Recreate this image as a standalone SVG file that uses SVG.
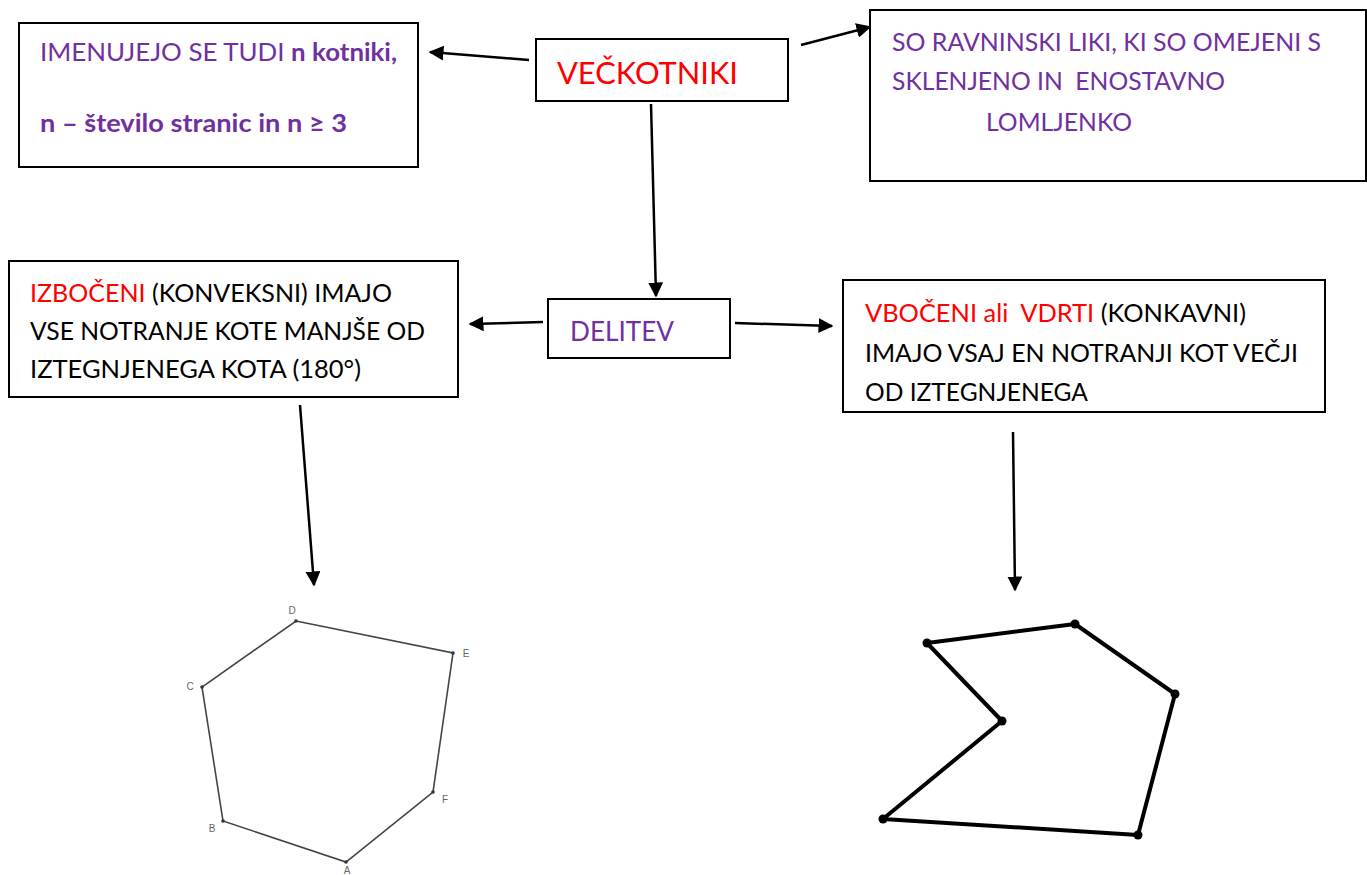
<svg xmlns="http://www.w3.org/2000/svg" width="1367" height="875" viewBox="0 0 1367 875">
<defs>
<style>
.box{fill:#fff;stroke:#000;stroke-width:2}
.t{font-family:Lato,"Open Sans",sans-serif}
.p{fill:#7030a0}
.r{fill:#ff0000}
.k{fill:#000}
.b{font-weight:bold}
.con{stroke:#000;stroke-width:2.5;fill:none}
.lbl{font-family:"Liberation Sans",Arial,sans-serif;font-size:10px;fill:#666}
</style>
<marker id="ah" viewBox="0 0 10 10" refX="9" refY="5" markerWidth="6" markerHeight="6" orient="auto" markerUnits="strokeWidth">
<path d="M0,0 L10,5 L0,10 z" fill="#000"/>
</marker>
</defs>
<rect width="1367" height="875" fill="#fff"/>

<g id="node-imenujejo">
<rect class="box" x="19" y="23" width="399" height="144"/>
<text class="t p" x="40" y="61" font-size="25.5" textLength="357" lengthAdjust="spacingAndGlyphs">IMENUJEJO SE TUDI <tspan class="b">n kotniki,</tspan></text>
<text class="t p b" x="40" y="132" font-size="25.5" textLength="307" lengthAdjust="spacingAndGlyphs">n – število stranic in n ≥ 3</text>
</g>

<g id="node-veckotniki">
<rect class="box" x="536" y="39" width="252" height="62"/>
<text class="t r" x="557" y="84" font-size="31" textLength="181" lengthAdjust="spacingAndGlyphs">VEČKOTNIKI</text>
</g>

<g id="node-so">
<rect class="box" x="870" y="10" width="496" height="171"/>
<text class="t p" x="892" y="51" font-size="24.5" textLength="429" lengthAdjust="spacingAndGlyphs">SO RAVNINSKI LIKI, KI SO OMEJENI S</text>
<text class="t p" x="892" y="90" font-size="24.5" xml:space="preserve" textLength="333" lengthAdjust="spacingAndGlyphs">SKLENJENO IN  ENOSTAVNO</text>
<text class="t p" x="986" y="131" font-size="24.5" textLength="146" lengthAdjust="spacingAndGlyphs">LOMLJENKO</text>
</g>

<g id="node-izboceni">
<rect class="box" x="9" y="261" width="449" height="136"/>
<text class="t k" x="30" y="302" font-size="24.5" textLength="362" lengthAdjust="spacingAndGlyphs"><tspan class="r">IZBOČENI</tspan> (KONVEKSNI) IMAJO</text>
<text class="t k" x="30" y="340" font-size="24.5" textLength="395" lengthAdjust="spacingAndGlyphs">VSE NOTRANJE KOTE MANJŠE OD</text>
<text class="t k" x="30" y="378" font-size="24.5" textLength="331" lengthAdjust="spacingAndGlyphs">IZTEGNJENEGA KOTA (180°)</text>
</g>

<g id="node-delitev">
<rect class="box" x="548" y="299" width="182" height="59"/>
<text class="t p" x="570" y="341" font-size="26" textLength="104" lengthAdjust="spacingAndGlyphs">DELITEV</text>
</g>

<g id="node-vboceni">
<rect class="box" x="843" y="280" width="482" height="132"/>
<text class="t k" x="865" y="322" font-size="24.5" xml:space="preserve" textLength="381" lengthAdjust="spacingAndGlyphs"><tspan class="r">VBOČENI ali  VDRTI</tspan> (KONKAVNI)</text>
<text class="t k" x="865" y="362" font-size="24.5" textLength="433" lengthAdjust="spacingAndGlyphs">IMAJO VSAJ EN NOTRANJI KOT VEČJI</text>
<text class="t k" x="865" y="401" font-size="24.5" textLength="223" lengthAdjust="spacingAndGlyphs">OD IZTEGNJENEGA</text>
</g>

<g id="connectors">
<line class="con" x1="529" y1="60" x2="430" y2="52" marker-end="url(#ah)"/>
<line class="con" x1="801" y1="45" x2="870" y2="27" marker-end="url(#ah)"/>
<line class="con" x1="651" y1="104" x2="656" y2="296" marker-end="url(#ah)"/>
<line class="con" x1="543" y1="322" x2="470" y2="324" marker-end="url(#ah)"/>
<line class="con" x1="735" y1="323" x2="832" y2="326" marker-end="url(#ah)"/>
<line class="con" x1="300" y1="405" x2="314" y2="585" marker-end="url(#ah)"/>
<line class="con" x1="1013" y1="432" x2="1015" y2="590" marker-end="url(#ah)"/>
</g>

<g id="node-convex">
<polygon points="296,621 453,653 433,792 346,862 223,821 202,687" fill="none" stroke="#444" stroke-width="1.6"/>
<g fill="#333">
<circle cx="296" cy="621" r="1.8"/><circle cx="453" cy="653" r="1.8"/><circle cx="433" cy="792" r="1.8"/>
<circle cx="346" cy="862" r="1.8"/><circle cx="223" cy="821" r="1.8"/><circle cx="202" cy="687" r="1.8"/>
</g>
<text class="lbl" x="292" y="614" text-anchor="middle">D</text>
<text class="lbl" x="466" y="657" text-anchor="middle">E</text>
<text class="lbl" x="445" y="803" text-anchor="middle">F</text>
<text class="lbl" x="347" y="874" text-anchor="middle">A</text>
<text class="lbl" x="212" y="832" text-anchor="middle">B</text>
<text class="lbl" x="190" y="690" text-anchor="middle">C</text>
</g>

<g id="node-concave">
<polygon points="927,643 1075,624 1175,694 1138,835 883,819 1002,721" fill="none" stroke="#000" stroke-width="4" stroke-linejoin="round"/>
<g fill="#000">
<circle cx="927" cy="643" r="4.5"/><circle cx="1075" cy="624" r="4.5"/><circle cx="1175" cy="694" r="4.5"/>
<circle cx="1138" cy="835" r="4.5"/><circle cx="883" cy="819" r="4.5"/><circle cx="1002" cy="721" r="4.5"/>
</g>
</g>
</svg>
